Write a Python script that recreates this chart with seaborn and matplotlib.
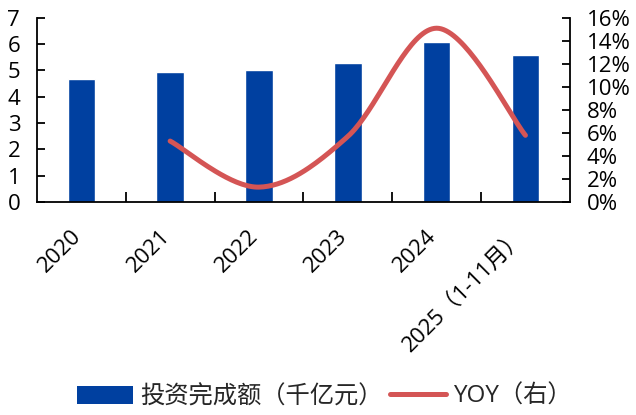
import numpy as np
import pandas as pd
import matplotlib
matplotlib.use("Agg")
import matplotlib.pyplot as plt
import matplotlib.transforms as mtransforms
from matplotlib.ticker import FuncFormatter, MultipleLocator
from matplotlib.patches import Patch
from matplotlib.lines import Line2D
import seaborn as sns

categories = ["2020", "2021", "2022", "2023", "2024", "2025（1-11月）"]
invest = [4.69, 4.94, 5.01, 5.29, 6.09, 5.60]
yoy_cats = ["2021", "2022", "2023", "2024", "2025（1-11月）"]
yoy = [5.3, 1.3, 5.7, 15.1, 5.8]

bar_color = "#0040A0"
line_color = "#D45555"

sns.set_theme(style="white")
plt.rcParams["font.family"] = ["Open Sans", "Noto Sans CJK SC", "DejaVu Sans"]
plt.rcParams["axes.unicode_minus"] = False

fig = plt.figure(figsize=(6.36, 4.15), dpi=100)
ax = fig.add_axes([0.058, 0.513, 0.838, 0.444])

df = pd.DataFrame({"cat": categories, "val": invest})
sns.barplot(data=df, x="cat", y="val", color=bar_color, width=0.31, ax=ax,
            saturation=1, order=categories)
ax.set_xlim(-0.5, len(categories) - 0.5)
ax.set_ylim(0, 7)
ax.yaxis.set_major_locator(MultipleLocator(1))
ax.set_xlabel("")
ax.set_ylabel("")

# smooth line (Catmull-Rom through the data points)
xs_pts = np.array([categories.index(c) for c in yoy_cats], dtype=float)
ys_pts = np.array(yoy, dtype=float)

def catmull(xp, yp, n=40):
    px = np.concatenate([[xp[0]], xp, [xp[-1]]])
    py = np.concatenate([[yp[0]], yp, [yp[-1]]])
    ox, oy = [], []
    for i in range(1, len(px) - 2):
        p0, p1, p2, p3 = [np.array([px[j], py[j]]) for j in (i - 1, i, i + 1, i + 2)]
        c1 = p1 + (p2 - p0) / 6.0
        c2 = p2 - (p3 - p1) / 6.0
        t = np.linspace(0, 1, n)[:, None]
        b = ((1 - t) ** 3) * p1 + 3 * ((1 - t) ** 2) * t * c1 + 3 * (1 - t) * t ** 2 * c2 + t ** 3 * p2
        ox.extend(b[:, 0]); oy.extend(b[:, 1])
    return np.array(ox), np.array(oy)

sx, sy = catmull(xs_pts, ys_pts)
ax2 = ax.twinx()
ax2.plot(sx, sy / 100.0, color=line_color, lw=3.6, solid_capstyle="round")
ax2.set_ylim(0, 0.16)
ax2.yaxis.set_major_locator(MultipleLocator(0.02))
ax2.yaxis.set_major_formatter(FuncFormatter(lambda v, p: f"{v*100:.0f}%"))
ax2.grid(False)
ax.grid(False)

for a in (ax, ax2):
    for s in a.spines.values():
        s.set_color("black")
        s.set_linewidth(1.3)
    a.spines["top"].set_visible(False)

ax.spines["right"].set_visible(False)
ax2.spines["left"].set_visible(False)
ax2.spines["bottom"].set_visible(False)

ax.tick_params(axis="y", direction="in", length=6, width=1.3, labelsize=16, pad=12, left=True, colors="black")
ax2.tick_params(axis="y", direction="in", length=6, width=1.3, labelsize=16, pad=12, right=True, colors="black")

# x ticks: minor ticks at category boundaries, labels at centers
ax.set_xticks(range(len(categories)))
ax.set_xticklabels(categories)
ax.tick_params(axis="x", which="major", length=0, labelsize=16, pad=17, colors="black")
ax.set_xticks(np.arange(0.5, len(categories) - 0.5, 1.0), minor=True)
ax.tick_params(axis="x", which="minor", direction="in", length=7, width=1.3, bottom=True, colors="black")
offset = mtransforms.ScaledTranslation(-11 / 100, 0, fig.dpi_scale_trans)
for lab in ax.get_xticklabels():
    lab.set_rotation(45)
    lab.set_ha("right")
    lab.set_va("top")
    lab.set_rotation_mode("anchor")
    lab.set_transform(lab.get_transform() + offset)

handles = [Patch(facecolor=bar_color, edgecolor="none"),
           Line2D([0], [0], color=line_color, lw=3.6)]
fig.legend(handles, ["投资完成额（千亿元）", "YOY（右）"], loc="center",
           bbox_to_anchor=(0.51, 0.043), ncol=2, frameon=False, fontsize=17.5,
           handlelength=2.3, handleheight=0.75, columnspacing=0.3, handletextpad=0.3)

fig.savefig("out.png", dpi=100)
